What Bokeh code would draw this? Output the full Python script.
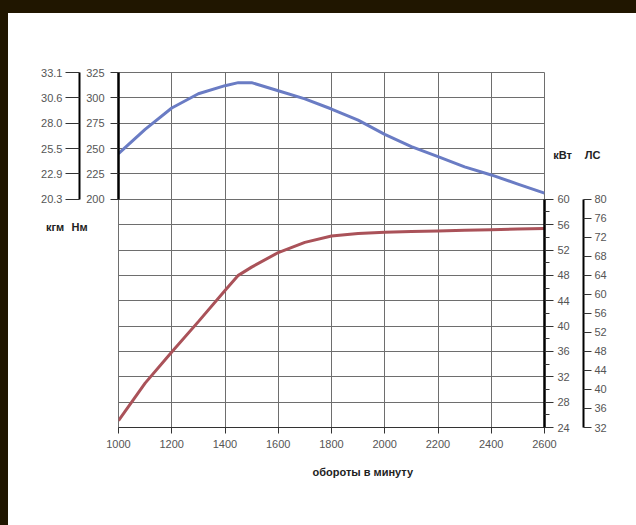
from bokeh.plotting import figure
from bokeh.models import Range1d, LinearAxis, FixedTicker, Title
from bokeh.core.properties import value
from bokeh.embed import file_html
from bokeh.resources import INLINE

# ---- data ----
rpm = [1000, 1100, 1200, 1300, 1400, 1450, 1500, 1600, 1700, 1800, 1900,
       2000, 2100, 2200, 2300, 2400, 2500, 2600]
torque_nm = [245, 269, 290, 304, 312, 315, 315, 307, 299, 289, 278,
             264, 252, 242, 232, 224, 215, 206]
power_kw = [25.1, 31.0, 35.9, 40.7, 45.6, 48.0, 49.3, 51.6, 53.2, 54.2, 54.6,
            54.8, 54.9, 55.0, 55.1, 55.2, 55.3, 55.4]

rpm_ticks = [1000, 1200, 1400, 1600, 1800, 2000, 2200, 2400, 2600]
nm_ticks = [200, 225, 250, 275, 300, 325]
kgm_labels = ["20.3", "22.9", "25.5", "28.0", "30.6", "33.1"]
kw_ticks = [24, 28, 32, 36, 40, 44, 48, 52, 56, 60]
kw_minor = [26, 30, 34, 38, 42, 46, 50, 54, 58]
hp_ticks = [32, 36, 40, 44, 48, 52, 56, 60, 64, 68, 72, 76, 80]
grid_kw = [24, 28, 32, 36, 40, 44, 48, 52, 56, 60, 64, 68, 72, 76, 80]
unit_texts = ["кгм", "Нм", "кВт", "ЛС"]

# ---- layout constants (page pixels) ----
FL, FR, FT, FB = 118, 544, 72, 427
BORDER_L, BORDER_T = 8, 13
W, H = 636, 525
UNIT_X = [54.5, 79, 562, 592]
UNIT_Y = [226, 226, 154, 154]

TICK_FONT = "Liberation Sans"
TICK_COLOR = "#555555"
TICK_SIZE = "11px"
GRID_COLOR = "#6e6e6e"

# canvas origin sits at (BORDER_L, BORDER_T) on the page
fig = figure(width=W, height=H, x_range=Range1d(1000, 2600), y_range=Range1d(24, 80),
             y_axis_location=None, output_backend="svg", toolbar_location=None,
             min_border_left=FL - BORDER_L, min_border_right=W - (FR - BORDER_L),
             min_border_top=FT - BORDER_T, min_border_bottom=H - (FB - BORDER_T),
             background_fill_color="white", border_fill_color="white")
fig.styles = {"position": "absolute", "left": "0px", "top": "0px",
              "box-sizing": "border-box",
              "border-top": "%dpx solid #201600" % BORDER_T,
              "border-left": "%dpx solid #201600" % BORDER_L}
fig.extra_y_ranges = {"nm": Range1d(-25, 325), "hp": Range1d(32, 80 + 20 * 4 / 3)}
fig.outline_line_color = GRID_COLOR

# grids
fig.xgrid.ticker = FixedTicker(ticks=rpm_ticks)
fig.xgrid.grid_line_color = GRID_COLOR
fig.ygrid.ticker = FixedTicker(ticks=grid_kw)
fig.ygrid.grid_line_color = GRID_COLOR

# x axis
xa = fig.xaxis[0]
xa.ticker = FixedTicker(ticks=rpm_ticks)
xa.axis_line_color = "#333333"
xa.major_tick_out = 6
xa.major_tick_in = 0
xa.minor_tick_line_color = None
xa.major_tick_line_color = "#333333"
xa.major_label_standoff = 6
xa.major_label_text_font = TICK_FONT
xa.major_label_text_font_size = TICK_SIZE
xa.major_label_text_color = TICK_COLOR

def style_axis(ax, width, tick_out, standoff):
    ax.axis_line_color = "black"
    ax.axis_line_width = width
    ax.major_tick_out = tick_out
    ax.major_tick_in = 0
    ax.major_tick_line_color = "#333333"
    ax.major_label_standoff = standoff
    ax.major_label_text_font = TICK_FONT
    ax.major_label_text_font_size = TICK_SIZE
    ax.major_label_text_color = TICK_COLOR

# Nm axis (inner left)
nm_axis = LinearAxis(y_range_name="nm", ticker=FixedTicker(ticks=nm_ticks), bounds=(200, 325),
                     axis_label=".", axis_label_text_alpha=0, axis_label_text_font_size="2px",
                     axis_label_standoff=0)
style_axis(nm_axis, 2.5, 8, 6)
nm_axis.minor_tick_line_color = None
fig.add_layout(nm_axis, "left")

# kgm axis (outer left)
kgm_axis = LinearAxis(y_range_name="nm", ticker=FixedTicker(ticks=nm_ticks), bounds=(200, 325),
                      major_label_overrides={t: s for t, s in zip(nm_ticks, kgm_labels)})
style_axis(kgm_axis, 2, 14, 3)
kgm_axis.minor_tick_line_color = None
fig.add_layout(kgm_axis, "left")

# kW axis (inner right)
kw_axis = LinearAxis(ticker=FixedTicker(ticks=kw_ticks, minor_ticks=kw_minor), bounds=(24, 60),
                     axis_label=".", axis_label_text_alpha=0, axis_label_text_font_size="10px",
                     axis_label_standoff=0)
style_axis(kw_axis, 2.5, 9, 4)
kw_axis.minor_tick_out = 5
kw_axis.minor_tick_in = 0
kw_axis.minor_tick_line_color = "#333333"
fig.add_layout(kw_axis, "right")

# hp axis (outer right)
hp_axis = LinearAxis(y_range_name="hp", ticker=FixedTicker(ticks=hp_ticks), bounds=(32, 80))
style_axis(hp_axis, 2, 8, 3)
hp_axis.minor_tick_line_color = None
fig.add_layout(hp_axis, "right")

# x axis title as a Title below
xt = Title(text="обороты в минуту", align="left", offset=312 - FL, standoff=26,
           text_font="Liberation Sans", text_font_size="11px", text_font_style="bold",
           text_color="#222222")
fig.add_layout(xt, "below")

# curves
fig.line(rpm, torque_nm, y_range_name="nm", line_color="#6a7cc4", line_width=3)
fig.line(rpm, power_kw, line_color="#aa5259", line_width=3)

# transparent overlay in page pixels carrying the unit captions beside the axes
ov = figure(width=W, height=H, x_range=Range1d(0, W), y_range=Range1d(H, 0), title=None,
            x_axis_location=None, y_axis_location=None, output_backend="svg",
            toolbar_location=None, min_border=0,
            background_fill_color=None, border_fill_color=None)
ov.outline_line_color = None
ov.xgrid.visible = False
ov.ygrid.visible = False
ov.styles = {"position": "absolute", "left": "0px", "top": "0px", "pointer-events": "none"}
ov.text(x=UNIT_X, y=UNIT_Y, text=unit_texts, text_align="center", text_baseline="middle",
        text_font=value("Liberation Sans"), text_font_size="11px", text_font_style="bold",
        text_color="#222222")

p = [fig, ov]
open("out.html", "w").write(file_html(p, INLINE))
